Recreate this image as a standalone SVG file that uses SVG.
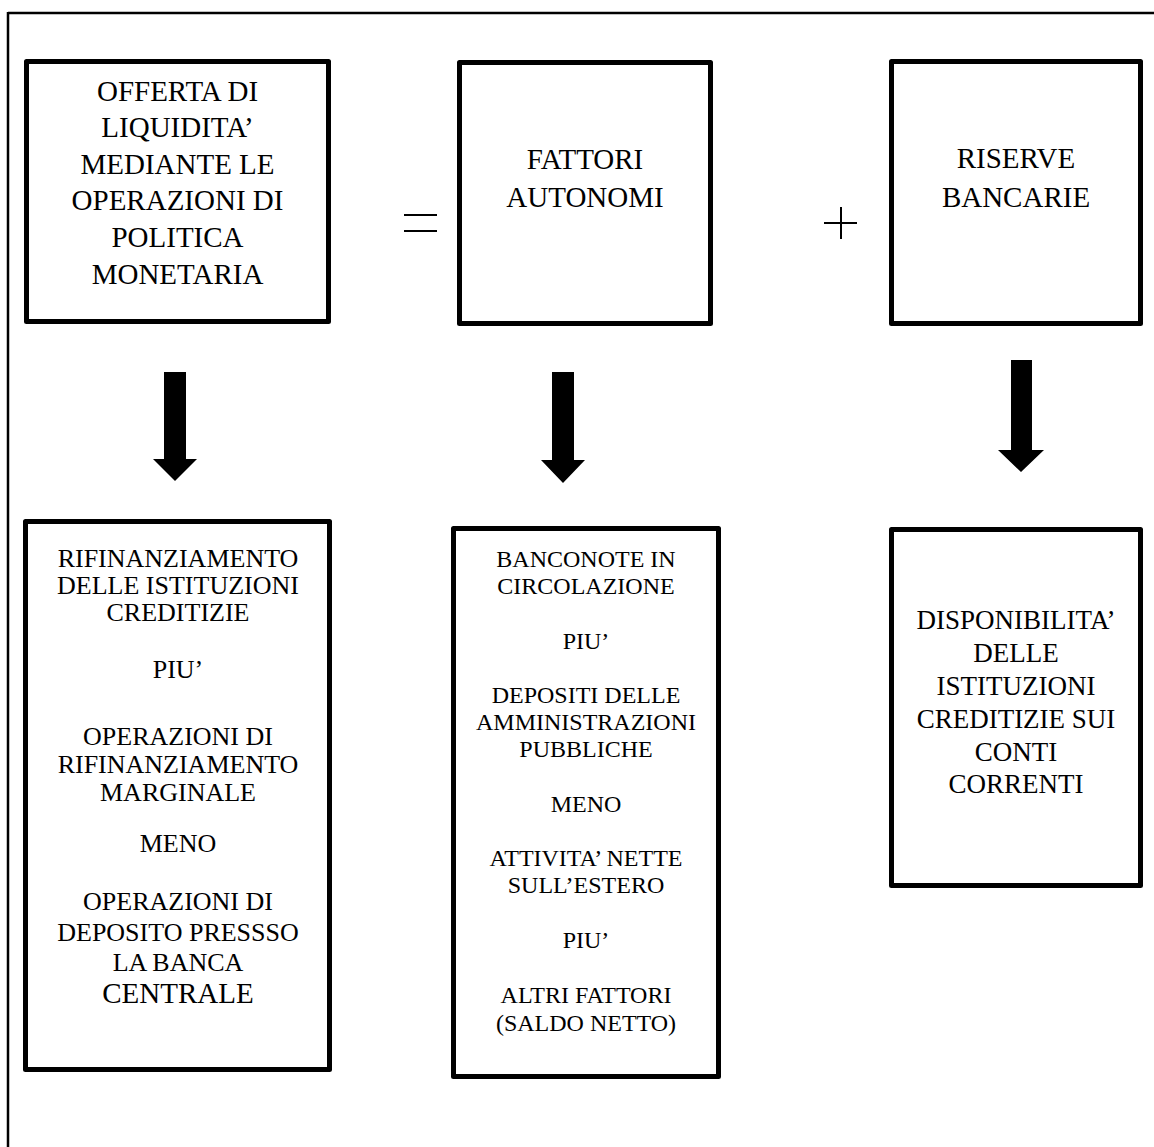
<svg xmlns="http://www.w3.org/2000/svg" width="1154" height="1147" viewBox="0 0 1154 1147">
  <style>
    .box { fill: #fff; stroke: #000; stroke-width: 5; stroke-linejoin: round; }
    .frame { stroke: #000; stroke-width: 2.5; fill: none; }
    .op { stroke: #000; stroke-width: 2; fill: none; }
    .arrow { fill: #000; }
    .t29 { font-size: 29px; }
    .t27 { font-size: 27px; }
    .t26 { font-size: 26px; }
    .t24 { font-size: 24px; }
  </style>
  <rect width="1154" height="1147" fill="#fff"/>

  <!-- page frame (top and left rules) -->
  <line class="frame" x1="8" y1="13" x2="1154" y2="13"/>
  <line class="frame" x1="8" y1="12" x2="8" y2="1147"/>

  <!-- equation operators -->
  <g id="operators">
    <line class="op" x1="404" y1="215" x2="437" y2="215"/>
    <line class="op" x1="404" y1="231" x2="437" y2="231"/>
    <line class="op" x1="824" y1="223" x2="857" y2="223"/>
    <line class="op" x1="841" y1="207" x2="841" y2="239"/>
  </g>

  <g font-family="'Liberation Serif', 'Times New Roman', serif" text-anchor="middle" fill="#000">
    <g id="offerta">
      <rect class="box" x="26.5" y="61.5" width="302" height="260"/>
      <text class="t29" x="177.5" y="100.5">OFFERTA DI</text>
      <text class="t29" x="177.5" y="137">LIQUIDITA’</text>
      <text class="t29" x="177.5" y="173.5">MEDIANTE LE</text>
      <text class="t29" x="177.5" y="210">OPERAZIONI DI</text>
      <text class="t29" x="177.5" y="247">POLITICA</text>
      <text class="t29" x="177.5" y="283.5">MONETARIA</text>
    </g>

    <g id="fattori">
      <rect class="box" x="459.5" y="62.5" width="251" height="261"/>
      <text class="t29" x="585" y="168.5">FATTORI</text>
      <text class="t29" x="585" y="206.5">AUTONOMI</text>
    </g>

    <g id="riserve">
      <rect class="box" x="891.5" y="61.5" width="249" height="262"/>
      <text class="t29" x="1016" y="167.5">RISERVE</text>
      <text class="t29" x="1016" y="206.5">BANCARIE</text>
    </g>

    <g id="rifinanziamento">
      <rect class="box" x="25.5" y="521.5" width="304" height="548"/>
      <text class="t26" x="178" y="567">RIFINANZIAMENTO</text>
      <text class="t26" x="178" y="594">DELLE ISTITUZIONI</text>
      <text class="t26" x="178" y="621">CREDITIZIE</text>
      <text class="t26" x="178" y="678">PIU’</text>
      <text class="t26" x="178" y="745">OPERAZIONI DI</text>
      <text class="t26" x="178" y="773">RIFINANZIAMENTO</text>
      <text class="t26" x="178" y="801">MARGINALE</text>
      <text class="t26" x="178" y="852">MENO</text>
      <text class="t26" x="178" y="910">OPERAZIONI DI</text>
      <text class="t26" x="178" y="941">DEPOSITO PRESSSO</text>
      <text class="t26" x="178" y="971">LA BANCA</text>
      <text class="t29" x="178" y="1003">CENTRALE</text>
    </g>

    <g id="componenti">
      <rect class="box" x="453.5" y="528.5" width="265" height="548"/>
      <text class="t24" x="586" y="567">BANCONOTE IN</text>
      <text class="t24" x="586" y="594">CIRCOLAZIONE</text>
      <text class="t24" x="586" y="649">PIU’</text>
      <text class="t24" x="586" y="703">DEPOSITI DELLE</text>
      <text class="t24" x="586" y="730">AMMINISTRAZIONI</text>
      <text class="t24" x="586" y="757">PUBBLICHE</text>
      <text class="t24" x="586" y="812">MENO</text>
      <text class="t24" x="586" y="866">ATTIVITA’ NETTE</text>
      <text class="t24" x="586" y="893">SULL’ESTERO</text>
      <text class="t24" x="586" y="948">PIU’</text>
      <text class="t24" x="586" y="1003">ALTRI FATTORI</text>
      <text class="t24" x="586" y="1031">(SALDO NETTO)</text>
    </g>

    <g id="disponibilita">
      <rect class="box" x="891.5" y="529.5" width="249" height="356"/>
      <text class="t27" x="1016" y="629">DISPONIBILITA’</text>
      <text class="t27" x="1016" y="662">DELLE</text>
      <text class="t27" x="1016" y="695">ISTITUZIONI</text>
      <text class="t27" x="1016" y="728">CREDITIZIE SUI</text>
      <text class="t27" x="1016" y="761">CONTI</text>
      <text class="t27" x="1016" y="793">CORRENTI</text>
    </g>
  </g>

  <!-- block arrows from each term to its components -->
  <g id="connectors">
    <polygon class="arrow" points="164,372 186,372 186,459 197,459 175,481 153,459 164,459"/>
    <polygon class="arrow" points="552,372 574,372 574,460 585,460 563,483 541,460 552,460"/>
    <polygon class="arrow" points="1011,360 1032,360 1032,450 1044,450 1021,472 998,450 1011,450"/>
  </g>
</svg>
